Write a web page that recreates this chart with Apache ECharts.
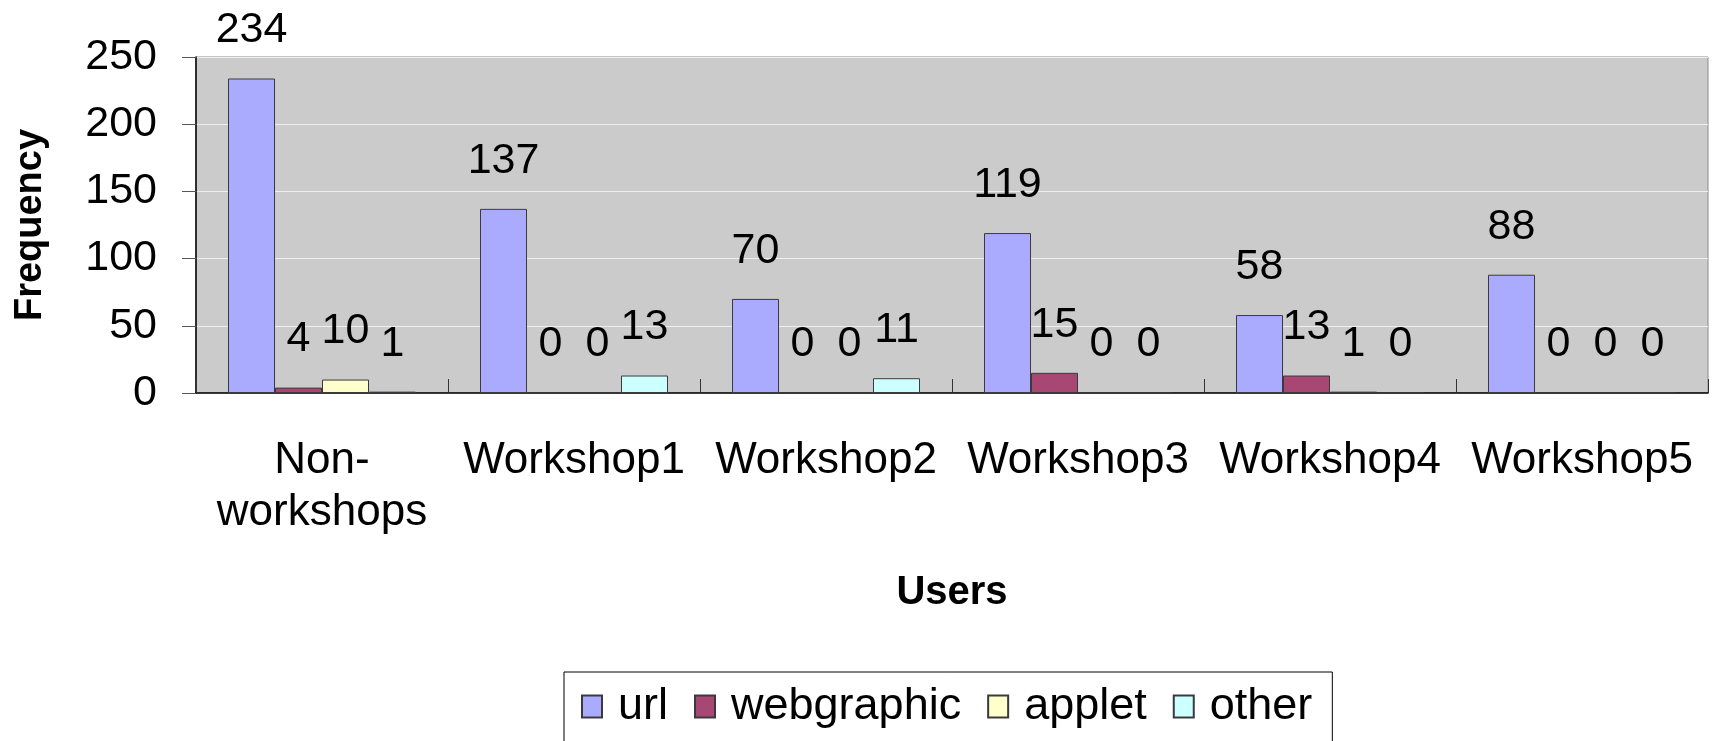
<!DOCTYPE html>
<html>
<head>
<meta charset="utf-8">
<title>Frequency by users</title>
<script src="https://cdn.jsdelivr.net/npm/echarts@6/dist/echarts.min.js"></script>
<style>
    html, body {margin: 0; padding: 0; background: #fff;}
    #main {width: 1714px; height: 741px;}
</style>
</head>
<body>
<div id="main"></div>
<script>
var categories = ['Non-\nworkshops', 'Workshop1', 'Workshop2', 'Workshop3', 'Workshop4', 'Workshop5'];
var seriesNames = ['url', 'webgraphic', 'applet', 'other'];
var urlData = [234, 137, 70, 119, 58, 88];
var webgraphicData = [4, 0, 0, 15, 13, 0];
var appletData = [10, 0, 0, 0, 1, 0];
var otherData = [1, 13, 11, 0, 0, 0];
var yTicks = [0, 50, 100, 150, 200, 250];

var colors = ['#aaaaff', '#a94774', '#ffffcc', '#ccffff'];
var fontName = '"Liberation Sans", Arial, sans-serif';

function makeSeries(name, data, color) {
    return {
        name: name,
        type: 'bar',
        barWidth: 47,
        barGap: '0%',
        data: data,
        itemStyle: {
            color: color,
            borderColor: '#3a3a3a',
            borderWidth: 1
        },
        label: {
            show: true,
            position: 'top',
            distance: 27,
            color: '#000',
            fontFamily: fontName,
            fontSize: 43,
            lineHeight: 42
        },
        emphasis: {disabled: true}
    };
}

var option = {
    animation: false,
    backgroundColor: '#ffffff',
    textStyle: {fontFamily: fontName},
    grid: {
        left: 196,
        right: 6,
        top: 57,
        bottom: 348,
        show: true,
        backgroundColor: '#cbcbcb',
        borderColor: '#8a8a8a',
        borderWidth: 1
    },
    legend: {
        data: seriesNames,
        icon: 'rect',
        left: 564,
        top: 672,
        orient: 'horizontal',
        padding: [12, 20, 14, 17],
        itemGap: 26,
        itemWidth: 20,
        itemHeight: 22,
        borderColor: '#000',
        borderWidth: 1,
        textStyle: {
            color: '#000',
            fontFamily: fontName,
            fontSize: 45,
            padding: [0, 0, 0, 11]
        }
    },
    xAxis: {
        type: 'category',
        data: categories,
        name: 'Users',
        nameLocation: 'middle',
        nameGap: 180,
        nameTextStyle: {
            color: '#000',
            fontFamily: fontName,
            fontSize: 40,
            fontWeight: 'bold'
        },
        axisLine: {lineStyle: {color: '#000', width: 1.5}},
        axisTick: {
            show: true,
            inside: true,
            length: 14,
            alignWithLabel: false,
            lineStyle: {color: '#333'}
        },
        axisLabel: {
            interval: 0,
            margin: 42,
            color: '#000',
            fontFamily: fontName,
            fontSize: 44,
            lineHeight: 52
        }
    },
    yAxis: {
        type: 'value',
        min: yTicks[0],
        max: yTicks[yTicks.length - 1],
        interval: 50,
        name: 'Frequency',
        nameLocation: 'middle',
        nameGap: 146,
        nameTextStyle: {
            color: '#000',
            fontFamily: fontName,
            fontSize: 38,
            fontWeight: 'bold'
        },
        axisLine: {show: true, lineStyle: {color: '#000', width: 1.5}},
        axisTick: {show: true, length: 14, lineStyle: {color: '#555'}},
        axisLabel: {
            margin: 39,
            color: '#000',
            fontFamily: fontName,
            fontSize: 43
        },
        splitLine: {show: true, lineStyle: {color: '#efefef', width: 1}}
    },
    series: [
        makeSeries(seriesNames[0], urlData, colors[0]),
        makeSeries(seriesNames[1], webgraphicData, colors[1]),
        makeSeries(seriesNames[2], appletData, colors[2]),
        makeSeries(seriesNames[3], otherData, colors[3])
    ]
};

var myChart = echarts.init(document.getElementById('main'));
myChart.setOption(option);
</script>
</body>
</html>
